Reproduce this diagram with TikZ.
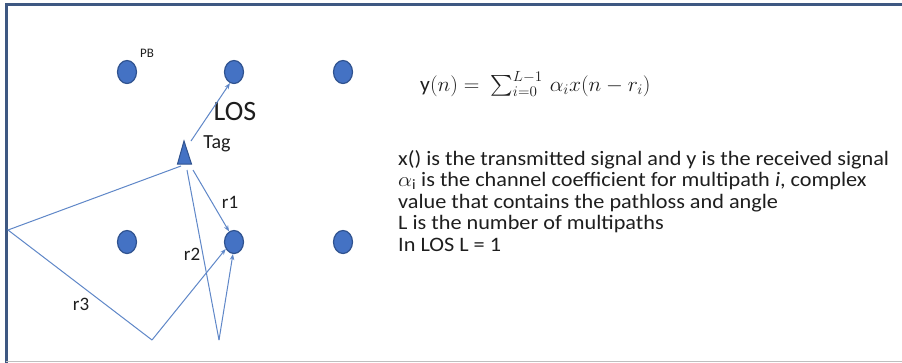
\RequirePackage{fix-cm}
\documentclass[tikz,border=0pt]{standalone}
\usepackage{exscale}
\usepackage{fontspec}
\setmainfont{Carlito}
\usetikzlibrary{arrows.meta,shapes.geometric}
\definecolor{pbfill}{RGB}{68,114,196}
\definecolor{pbdraw}{RGB}{47,82,143}
\definecolor{ray}{RGB}{95,135,200}
\definecolor{frame}{RGB}{62,88,130}
\definecolor{txt}{RGB}{30,30,30}
\tikzset{
  pb/.style={ellipse,fill=pbfill,draw=pbdraw,line width=1.2pt,minimum width=19pt,minimum height=23pt,inner sep=0pt},
  rayline/.style={draw=ray,line width=1pt},
  rayarrow/.style={rayline,-{Stealth[length=6pt,width=4.5pt]}},
  lbl/.style={text=txt,inner sep=0pt,font=\fontsize{19}{21}\selectfont}
}
\begin{document}
\begin{tikzpicture}[x=1pt,y=-1pt]
\useasboundingbox (0,0) rectangle (902,362);
\fill[white] (0,0) rectangle (902,362);
% frame
\draw[frame,line width=3pt] (6,366) -- (6,4) -- (906,4);
\draw[gray!50,line width=1pt] (6,361.5) -- (906,361.5);
% positioning beacons
\node[pb] (a1) at (127,72) {};
\node[pb] (a2) at (234,72) {};
\node[pb] (a3) at (343,72) {};
\node[pb] (b1) at (127,242) {};
\node[pb] (b2) at (234,242) {};
\node[pb] (b3) at (343,242) {};
\node[lbl,font=\fontsize{13}{13}\selectfont] (pbl) at (147,53) {PB};
% tag
\draw[fill=pbfill,draw=pbdraw,line width=1pt] (184,141) -- (191.5,164) -- (177.5,164) -- cycle;
\coordinate (tagtop) at (191,141);
\coordinate (tagr) at (193,170);
\coordinate (tagb) at (187,170);
\coordinate (tagl) at (181,166);
\node[lbl,font=\fontsize{20}{20}\selectfont] (taglbl) at (217,144) {Tag};
\node[lbl,font=\fontsize{28}{28}\selectfont] (los) at (235,112) {LOS};
% reflection points
\coordinate (w) at (8,230);
\coordinate (f1) at (152,340);
\coordinate (f2) at (219,340);
% rays
\draw[rayarrow] (tagtop) -- (a2.250);
\draw[rayarrow] (tagr) -- (b2.115);
\draw[rayline] (tagb) -- (f2);
\draw[rayarrow] (f2) -- (b2.265);
\draw[rayline] (tagl) -- (w) -- (f1);
\draw[rayarrow] (f1) -- (b2.220);
\node[lbl] (r1) at (230,202) {r1};
\node[lbl] (r2) at (192,254) {r2};
\node[lbl] (r3) at (81,304) {r3};
% formula
\node[text=txt,inner sep=0pt,font=\fontsize{21}{23}\selectfont,anchor=west,xscale=1.03,transform shape] (eq) at (420,84)
  {y$(n) =\ \sum\nolimits_{i=0}^{L-1}\,\alpha_i x(n-r_i)$};
% explanation
\node[text=txt,inner sep=0pt,anchor=north west,align=left,xscale=1.085,transform shape,
      font=\fontsize{20.5}{21.5}\selectfont] (expl) at (398,150)
  {x() is the transmitted signal and y is the received signal\\
   $\alpha_{\mathrm{i}}$ is the channel coefficient for multipath \textit{i}, complex\\
   value that contains the pathloss and angle\\
   L is the number of multipaths\\
   In LOS L = 1};
\end{tikzpicture}
\end{document}
